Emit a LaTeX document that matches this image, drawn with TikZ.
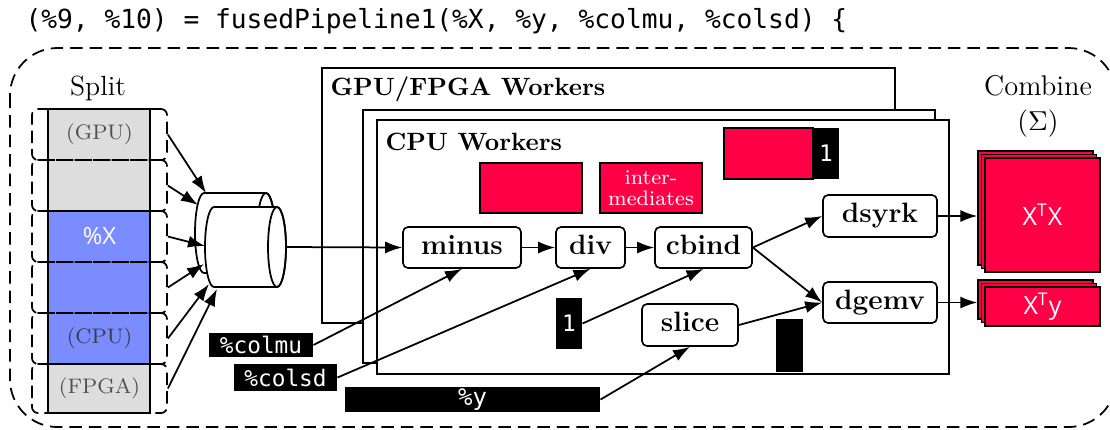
\documentclass[tikz,border=0pt]{standalone}
\usepackage{fontspec}
\newfontfamily\mymono{DejaVu Sans Mono}
\newfontfamily\mysans{Open Sans}
\usetikzlibrary{arrows.meta}
\definecolor{crim}{RGB}{255,0,70}
\definecolor{splitgray}{RGB}{221,221,221}
\definecolor{splitblue}{RGB}{122,140,255}
\definecolor{lblgray}{RGB}{80,80,80}
\begin{document}
\begin{tikzpicture}[x=0.4pt,y=-0.4pt,
  lw/.style={line width=0.7pt},
  outerdash/.style={lw, dash pattern=on 5pt off 2.8pt},
  segbox/.style={draw, lw, dash pattern=on 5pt off 2.4pt, rounded corners=2.4pt, minimum width=54pt, inner sep=0pt, font=\fontsize{8.4}{10}\selectfont, text=lblgray},
  wk/.style={draw, lw, fill=white},
  wktitle/.style={anchor=base west, inner sep=0pt, font=\bfseries\fontsize{10}{12}\selectfont},
  op/.style={draw, line width=0.65pt, rounded corners=2pt, fill=white, inner sep=0pt, text height=7.5pt, text depth=2pt, font=\bfseries\fontsize{11.2}{13}\selectfont},
  redbox/.style={draw, line width=0.55pt, fill=crim, inner sep=0pt, text=white},
  blk/.style={fill=black, inner sep=0pt, text=white, font=\mymono\fontsize{9.1}{11}\selectfont},
  arr/.style={-{Latex[length=6.8pt,width=4.8pt]}, line width=0.7pt},
  cylshape/.style={lw, fill=white}
]
\useasboundingbox (0,0) rectangle (1110,429);

% title
\node[anchor=base west, inner sep=0pt, font=\mymono\fontsize{10.5}{12}\selectfont] (title) at (25,28)
  {(\%9, \%10) = fusedPipeline1(\%X, \%y, \%colmu, \%colsd) \{};

% outer dashed region
\draw[outerdash, rounded corners=19pt] (10,48) rectangle (1116,427);

% workers
\draw[wk] (322,68) rectangle (895,323);
\node[wktitle] (gputitle) at (330,95) {GPU/FPGA Workers};
\draw[wk] (363,110) rectangle (935,363);
\draw[wk] (377,120) rectangle (949,374);
\node[wktitle] (cputitle) at (385,150) {CPU Workers};

% intermediates
\node[redbox, minimum width=40.8pt, minimum height=20pt] (r1) at (531,188) {};
\node[redbox, minimum width=40.8pt, minimum height=20pt, align=center, font=\fontsize{8.4}{8.6}\selectfont] (r2) at (651,188) {inter-\\mediates};
\node[redbox, minimum width=35.6pt, minimum height=20.4pt] (r3) at (768.5,153.5) {};
\node[blk, minimum width=10.4pt, minimum height=20.4pt] (r3one) at (826,153.5) {1};

% operators
\node[op, minimum width=47.2pt, minimum height=16.4pt] (minus) at (462,247.5) {minus};
\node[op, minimum width=27.6pt, minimum height=16.4pt] (div) at (590.5,247.5) {div};
\node[op, minimum width=38.8pt, minimum height=16.4pt] (cbind) at (703.5,247.5) {cbind};
\node[op, minimum width=45.6pt, minimum height=16.8pt] (dsyrk) at (880,216) {dsyrk};
\node[op, minimum width=45.6pt, minimum height=16.4pt] (dgemv) at (880,302.5) {dgemv};
\node[op, minimum width=38.4pt, minimum height=16.8pt] (slice) at (690,325) {slice};

\node[blk, minimum width=10.4pt, minimum height=20.4pt] (one) at (569,323.5) {1};
\node[blk, minimum width=10.8pt, minimum height=21.2pt] (bar) at (789.5,345.5) {};

% inputs
\node[blk, minimum width=41.6pt, minimum height=9.6pt] (colmu) at (261,345) {\%colmu};
\node[blk, minimum width=41.2pt, minimum height=10.8pt] (colsd) at (285.5,377.5) {\%colsd};
\node[blk, minimum width=102pt, minimum height=10pt, font=\mymono\fontsize{9.6}{11}\selectfont] (yvec) at (472.5,399.5) {\%y};

% combine
\node[font=\fontsize{11.4}{14}\selectfont, anchor=base, inner sep=0pt] (combine) at (1038,95) {Combine};
\node[font=\fontsize{11.4}{14}\selectfont, anchor=base, inner sep=0pt] (sigma) at (1038,130) {$(\Sigma)$};
\node[redbox, minimum width=46pt, minimum height=45.6pt] (xtxb) at (1035.5,208) {};
\node[redbox, minimum width=46pt, minimum height=45.6pt] (xtxm) at (1039,211.5) {};
\node[redbox, minimum width=46pt, minimum height=45.6pt, font=\mysans\fontsize{10}{12}\selectfont] (xtx) at (1042.5,215) {X\textsuperscript{T}X};
\node[redbox, minimum width=46pt, minimum height=15.6pt] (xtyb) at (1035.5,299.5) {};
\node[redbox, minimum width=46pt, minimum height=15.6pt] (xtym) at (1039,303) {};
\node[redbox, minimum width=46pt, minimum height=15.6pt, font=\mysans\fontsize{10}{12}\selectfont] (xty) at (1042.5,306.5) {X\textsuperscript{T}y};

% split column
\node[font=\fontsize{11.1}{13}\selectfont, anchor=base, inner sep=0pt] (split) at (98,95) {Split};
\draw[lw, fill=splitgray] (48,109) rectangle (150,211);
\draw[lw, fill=splitblue] (48,211) rectangle (150,364);
\draw[lw, fill=splitgray] (48,364) rectangle (150,413);
\node[segbox, minimum height=20.4pt] (s1) at (99.5,134.5) {(GPU)};
\node[segbox, minimum height=20.4pt] (s2) at (99.5,185.5) {};
\node[segbox, minimum height=20.4pt, text=white, font=\mysans\fontsize{9.5}{11}\selectfont] (s3) at (99.5,236.5) {\%X};
\node[segbox, minimum height=20.4pt] (s4) at (99.5,287.5) {};
\node[segbox, minimum height=20.4pt, text={rgb,255:red,60;green,60;blue,70}] (s5) at (99.5,338.5) {(CPU)};
\node[segbox, minimum height=19.6pt] (s6) at (99.5,388.5) {(FPGA)};

% cylinders
\draw[cylshape] (204,193) -- (266,193) arc[start angle=-90,end angle=90,x radius=9,y radius=40]
  -- (204,273) arc[start angle=90,end angle=270,x radius=9,y radius=40] -- cycle;
\draw[lw] (266,233) ellipse[x radius=9,y radius=40];
\draw[cylshape] (214,207) -- (277,207) arc[start angle=-90,end angle=90,x radius=9,y radius=40]
  -- (214,287) arc[start angle=90,end angle=270,x radius=9,y radius=40] -- cycle;
\draw[lw] (277,247) ellipse[x radius=9,y radius=40];
\node[minimum width=31.6pt, minimum height=32pt, inner sep=0pt] (cyl) at (246.5,247) {};

\coordinate (c1) at (206,193);
\coordinate (c2) at (198,205);
\coordinate (c3) at (205,246);
\coordinate (c4) at (204,264);
\coordinate (c5) at (209,284);
\coordinate (c6) at (217,289);
\draw[arr] (s1.east) -- (c1);
\draw[arr] (s2.east) -- (c2);
\draw[arr] (s3.east) -- (c3);
\draw[arr] (s4.east) -- (c4);
\draw[arr] (s5.east) -- (c5);
\draw[arr] (s6.east) -- (c6);

% connectors
\draw[arr] (cyl.east) -- (minus.west);
\draw[arr] (minus) -- (div);
\draw[arr] (div) -- (cbind);
\draw[arr] (cbind.east) -- (dsyrk.west);
\draw[arr] (cbind.east) -- (dgemv.west);
\draw[arr] (slice.east) -- (dgemv.west);
\draw[arr] (colmu.east) -- (minus.south);
\draw[arr] (colsd.east) -- (div.south);
\draw[arr] (one.east) -- (cbind.south);
\draw[arr] (yvec.east) -- (slice.south);
\draw[arr] (dsyrk.east) -- (dsyrk.east -| xtxb.west);
\draw[arr] (dgemv.east) -- (dgemv.east -| xtyb.west);
\end{tikzpicture}
\end{document}
